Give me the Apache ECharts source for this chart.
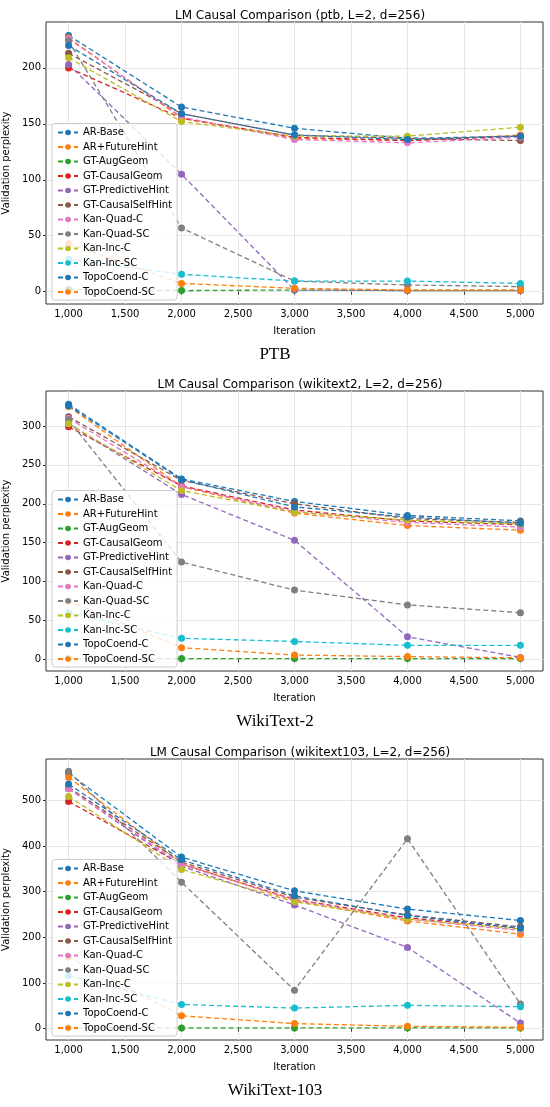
<!DOCTYPE html>
<html><head><meta charset="utf-8">
<script src="https://cdn.jsdelivr.net/npm/echarts@6/dist/echarts.min.js"></script>
<style>html,body{margin:0;padding:0;background:#fff}#c{width:550px;height:1107px}</style>
</head><body><div id="c"></div>
<script>
const iterations = [1000, 2000, 3000, 4000, 5000];
const xTicks = [1000,1500,2000,2500,3000,3500,4000,4500,5000];
const seriesNames = ['AR-Base','AR+FutureHint','GT-AugGeom','GT-CausalGeom','GT-PredictiveHint','GT-CausalSelfHint','Kan-Quad-C','Kan-Quad-SC','Kan-Inc-C','Kan-Inc-SC','TopoCoend-C','TopoCoend-SC'];
const colors = ['#1f77b4','#ff7f0e','#2ca02c','#d62728','#9467bd','#8c564b','#e377c2','#7f7f7f','#bcbd22','#17becf','#1f77b4','#ff7f0e'];
const captions = ['PTB','WikiText-2','WikiText-103'];
const titles = ['LM Causal Comparison (ptb, L=2, d=256)','LM Causal Comparison (wikitext2, L=2, d=256)','LM Causal Comparison (wikitext103, L=2, d=256)'];

const ptb = [
 [229,165,146,137,139],
 [227,155,137,135,140],
 [2,1,1.5,1,1],
 [200,155,138,135,139],
 [203,105,1.5,1,1],
 [213,159,140,137,135],
 [226,156,136,133,138],
 [224,57,9.5,6,4.5],
 [209,152,139,139,147],
 [29,15.5,9.5,9.5,7.4],
 [220,159,140,136,139],
 [43,7.4,3,1.5,1.5]
];
const wt2 = [
 [328,232,203,185,178],
 [325,222,188,172,166],
 [1,1,1,1,1],
 [299,223,192,178,173],
 [303,212,153,29,2.5],
 [312,230,200,181,176],
 [310,222,190,176,170],
 [308,125,89,70,60],
 [303,217,189,179,174],
 [60,27,23,18,18],
 [326,231,196,183,175],
 [75,15,5.5,3.5,2]
];
const wt103 = [
 [560,376,302,262,237],
 [551,362,280,236,207],
 [2,1.5,1.5,1.5,1.5],
 [498,360,283,243,220],
 [526,356,271,178,12],
 [529,365,288,249,223],
 [526,360,282,240,215],
 [564,321,84,416,54],
 [509,349,278,240,218],
 [116,53,45,51,48],
 [536,370,291,248,220],
 [157,28,11,5,3]
];
const datasets = [ptb, wt2, wt103];
const yMin = [-11, -15, -25], yMax = [241, 345, 591], yInt = [50, 50, 100];
const tops = [22, 391, 759], bottoms = [304, 671, 1040];

const option = {animation:false, title:[], grid:[], xAxis:[], yAxis:[], legend:[], series:[], graphic:[]};
for (let k=0;k<3;k++){
  const yt = Array.from({length:Math.floor(yMax[k]/yInt[k])+1},(_,i)=>i*yInt[k]);
  option.title.push({text:titles[k], left:295, top:tops[k]-17, textAlign:'center',
    textStyle:{fontSize:12, fontWeight:'normal', color:'#000', fontFamily:'DejaVu Sans'}});
  option.grid.push({left:46, right:7, top:tops[k], height:bottoms[k]-tops[k], show:true, borderColor:'#333', borderWidth:1,
    containLabel:false, outerBoundsMode:'none'});
  option.xAxis.push({type:'value', gridIndex:k, min:800, max:5200,
    name:'Iteration', nameLocation:'middle', nameGap:22, nameTextStyle:{fontSize:10, color:'#000', fontFamily:'DejaVu Sans'},
    axisLine:{show:false}, axisTick:{show:true, length:3, lineStyle:{color:'#333'}, customValues:xTicks},
    axisLabel:{fontSize:10, color:'#000', fontFamily:'DejaVu Sans', margin:5, customValues:xTicks, showMinLabel:true, showMaxLabel:true},
    splitLine:{show:true, lineStyle:{color:'#e6e6e6'}}});
  option.yAxis.push({type:'value', gridIndex:k, min:yMin[k], max:yMax[k],
    name:'Validation perplexity', nameLocation:'middle', nameGap:30, nameTextStyle:{fontSize:10, color:'#000', fontFamily:'DejaVu Sans'},
    axisLine:{show:false}, axisTick:{show:true, length:3, lineStyle:{color:'#333'}, customValues:yt},
    axisLabel:{fontSize:10, color:'#000', fontFamily:'DejaVu Sans', margin:5, customValues:yt},
    splitLine:{show:true, lineStyle:{color:'#e6e6e6'}}});
  option.graphic.push({type:'text', left:'center', top:bottoms[k]+42,
    style:{text:captions[k], fontSize:17, fontFamily:'Liberation Serif', fill:'#000'}});
  const legendData=[];
  for (let s=0;s<seriesNames.length;s++){
    const name = seriesNames[s] + (k>0 ? '\u200b'.repeat(k) : '');
    legendData.push(name);
    option.series.push({type:'line', name, xAxisIndex:k, yAxisIndex:k,
      data: iterations.map((x,i)=>[x, datasets[k][s][i]]),
      symbol:'circle', symbolSize:7, color:colors[s],
      itemStyle:{color:colors[s]},
      lineStyle:{type:[5,3], width:1.3, color:colors[s]}});
  }
  option.legend.push({data:legendData, orient:'vertical', left:52, bottom:1107-bottoms[k]+4,
    backgroundColor:'rgba(255,255,255,0.8)', borderColor:'#ccc', borderWidth:1, borderRadius:3,
    padding:[4,5,3,5], itemWidth:20, itemHeight:7, itemGap:4.5,
    textStyle:{fontSize:10, color:'#000', fontFamily:'DejaVu Sans'},
    formatter:n=>n.replace(/\u200b/g,'')});
}
echarts.init(document.getElementById('c')).setOption(option);
</script></body></html>
